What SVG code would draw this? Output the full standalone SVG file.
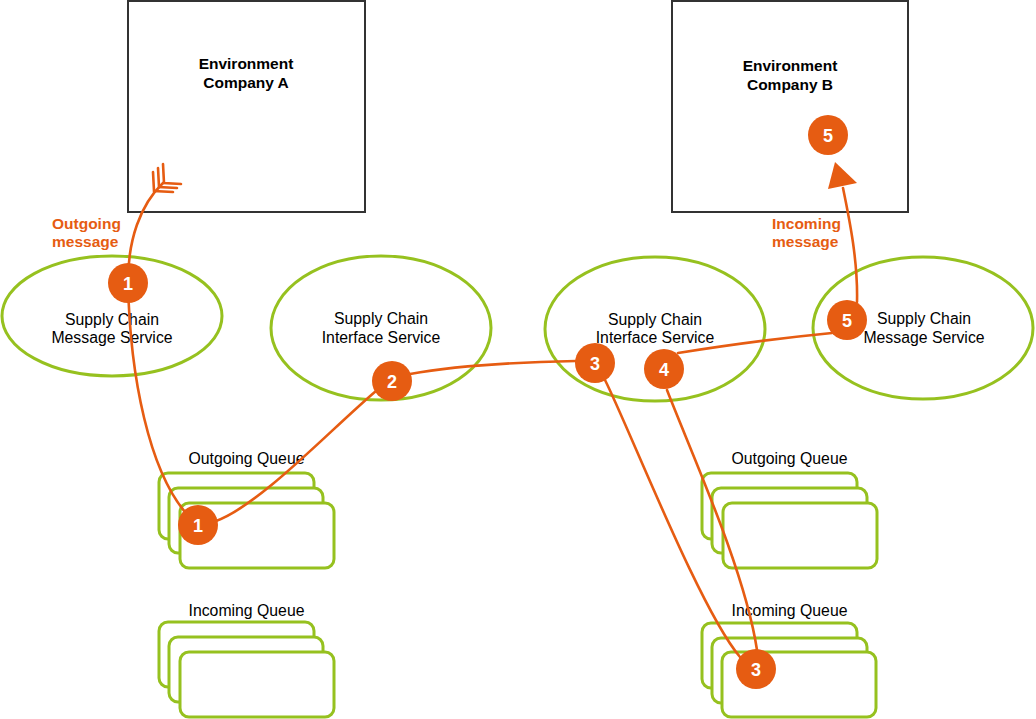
<svg xmlns="http://www.w3.org/2000/svg" width="1036" height="719" viewBox="0 0 1036 719">
<style>
.env{fill:#fff;stroke:#333;stroke-width:2}
.svc{fill:#fff;stroke:#96C11F;stroke-width:3}
.q{fill:#fff;stroke:#96C11F;stroke-width:3}
.t{font-family:"Liberation Sans",Arial,sans-serif;font-size:15.8px;fill:#000;text-anchor:middle}
.tb{font-family:"Liberation Sans",Arial,sans-serif;font-size:15.5px;font-weight:bold;fill:#000;text-anchor:middle}
.lbl{font-family:"Liberation Sans",Arial,sans-serif;font-size:15.5px;font-weight:bold;fill:#E65C12}
.c{fill:none;stroke:#E65C12;stroke-width:2.6;stroke-linecap:round}
.step circle{fill:#E65C12}
.step text{font-family:"Liberation Sans",Arial,sans-serif;font-size:18px;font-weight:bold;fill:#fff;text-anchor:middle}
</style>

<g id="envA">
<rect class="env" x="128" y="1" width="237" height="211"/>
<text class="tb" x="246" y="69">Environment</text>
<text class="tb" x="246" y="88">Company A</text>
</g>
<g id="envB">
<rect class="env" x="672" y="1" width="236" height="211"/>
<text class="tb" x="790" y="71">Environment</text>
<text class="tb" x="790" y="90">Company B</text>
</g>

<g id="svcA-message">
<ellipse class="svc" cx="112" cy="316" rx="110" ry="60"/>
<text class="t" x="112" y="325">Supply Chain</text>
<text class="t" x="112" y="343">Message Service</text>
</g>
<g id="svcA-interface">
<ellipse class="svc" cx="381" cy="328" rx="110" ry="72"/>
<text class="t" x="381" y="324">Supply Chain</text>
<text class="t" x="381" y="343">Interface Service</text>
</g>
<g id="svcB-interface">
<ellipse class="svc" cx="655" cy="329" rx="110" ry="72"/>
<text class="t" x="655" y="325">Supply Chain</text>
<text class="t" x="655" y="343">Interface Service</text>
</g>
<g id="svcB-message">
<ellipse class="svc" cx="923" cy="328" rx="110" ry="71"/>
<text class="t" x="924" y="324">Supply Chain</text>
<text class="t" x="924" y="343">Message Service</text>
</g>

<g id="queueA-out">
<text class="t" x="246.5" y="464">Outgoing Queue</text>
<rect class="q" x="159" y="473" width="155" height="66" rx="9"/>
<rect class="q" x="169" y="488" width="154" height="65" rx="9"/>
<rect class="q" x="180" y="503" width="154" height="65" rx="9"/>
</g>
<g id="queueA-in">
<text class="t" x="246.5" y="616">Incoming Queue</text>
<rect class="q" x="159" y="622" width="155" height="65" rx="9"/>
<rect class="q" x="169" y="637" width="154" height="65" rx="9"/>
<rect class="q" x="180" y="652" width="154" height="65" rx="9"/>
</g>
<g id="queueB-out">
<text class="t" x="789.5" y="464">Outgoing Queue</text>
<rect class="q" x="702" y="473" width="155" height="66" rx="9"/>
<rect class="q" x="712" y="488" width="155" height="65" rx="9"/>
<rect class="q" x="723" y="503" width="154" height="65" rx="9"/>
</g>
<g id="queueB-in">
<text class="t" x="789.5" y="616">Incoming Queue</text>
<rect class="q" x="702" y="623" width="155" height="65" rx="9"/>
<rect class="q" x="712" y="638" width="155" height="65" rx="9"/>
<rect class="q" x="722" y="652" width="154" height="65" rx="9"/>
</g>

<g id="connectors">
<path class="c" d="M163,183 C140,205 128,240 128,282 C130,380 150,470 185,512"/>
<path class="c" d="M153,172 L154,191 L173,192 M158,168 L159,187 L177,188 M163,164 L164,183 L181,184"/>
<path class="c" d="M216,521 C260,505 330,430 376,391"/>
<path class="c" d="M410,374 Q470,363 576,361"/>
<path class="c" d="M605,380 C630,430 700,610 740,657"/>
<path class="c" d="M667,390 C690,450 745,570 757,650"/>
<path class="c" d="M678,353 Q760,340 832,333"/>
<path class="c" d="M857,302 C858,262 850,222 843,188"/>
<polygon points="835,162 828,189 857,183" fill="#E65C12"/>
<text class="lbl" x="52" y="229">Outgoing</text>
<text class="lbl" x="52" y="247">message</text>
<text class="lbl" x="772" y="229">Incoming</text>
<text class="lbl" x="772" y="247">message</text>
</g>

<g id="step1a" class="step"><circle cx="128" cy="283" r="20"/><text x="128" y="290">1</text></g>
<g id="step1b" class="step"><circle cx="198" cy="525" r="20"/><text x="198" y="532">1</text></g>
<g id="step2" class="step"><circle cx="392" cy="381" r="20"/><text x="392" y="388">2</text></g>
<g id="step3a" class="step"><circle cx="595" cy="363" r="20"/><text x="595" y="370">3</text></g>
<g id="step4" class="step"><circle cx="664" cy="369" r="20"/><text x="664" y="376">4</text></g>
<g id="step5a" class="step"><circle cx="847" cy="320" r="20"/><text x="847" y="327">5</text></g>
<g id="step5b" class="step"><circle cx="828" cy="135" r="20"/><text x="828" y="142">5</text></g>
<g id="step3b" class="step"><circle cx="756" cy="669" r="20"/><text x="756" y="676">3</text></g>
</svg>
